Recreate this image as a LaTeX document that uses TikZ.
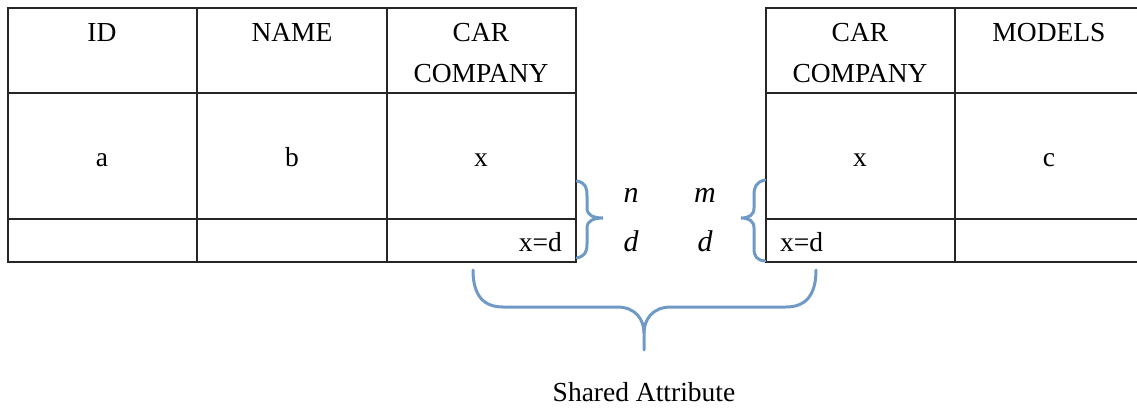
\documentclass[tikz,border=0pt]{standalone}
\usepackage{fontspec}
\setmainfont{Liberation Serif}
\begin{document}
\begin{tikzpicture}[x=1pt,y=-1pt,
  grid/.style={line width=1.3pt,draw=black!85},
  brace/.style={line width=3pt,draw=braceblue,line cap=round},
  cell/.style={font=\fontsize{27.5}{41}\selectfont,inner sep=0pt,align=center},
  var/.style={font=\fontsize{30}{34}\selectfont\itshape,inner sep=0pt,anchor=base}]
\definecolor{braceblue}{HTML}{6F9AC6}
\useasboundingbox (0,0) rectangle (1137,407);

% left table: ID / NAME / CAR COMPANY
\draw[grid] (8,8) rectangle (576,262);
\draw[grid] (197,8) -- (197,262) (387,8) -- (387,262);
\draw[grid] (8,93) -- (576,93) (8,219) -- (576,219);

% right table: CAR COMPANY / MODELS (runs past the right edge)
\draw[grid] (1140,8) -- (766,8) -- (766,262) -- (1140,262);
\draw[grid] (955,8) -- (955,262);
\draw[grid] (766,93) -- (1140,93) (766,219) -- (1140,219);

% header cells
\node[cell,anchor=north] (hid)   at (102,23) {ID};
\node[cell,anchor=north] (hname) at (292,23) {NAME};
\node[cell,anchor=north] (hcar)  at (481,23) {CAR\\COMPANY};
\node[cell,anchor=north] (hcar2) at (860,23) {CAR\\COMPANY};
\node[cell,anchor=north] (hmod)  at (1049,23) {MODELS};

% data cells
\node[cell,anchor=base] (va)  at (102,166) {a};
\node[cell,anchor=base] (vb)  at (292,166) {b};
\node[cell,anchor=base] (vx)  at (481,166) {x};
\node[cell,anchor=base] (vx2) at (860,166) {x};
\node[cell,anchor=base] (vc)  at (1049,166) {c};
\node[cell,anchor=base east] (eq1) at (562,251) {x=d};
\node[cell,anchor=base west] (eq2) at (780,251) {x=d};

% ratios between the tables
\node[var] (n)  at (631,202) {n};
\node[var] (m)  at (705,202) {m};
\node[var] (d1) at (631,251) {d};
\node[var] (d2) at (705,251) {d};

% small braces beside the tables
\draw[brace] (577,181) .. controls (586,183) and (587,188) .. (587,196)
  -- (587,208) .. controls (587,215) and (593,218) .. (603,218)
  .. controls (593,218) and (587,221) .. (587,228)
  -- (587,244) .. controls (587,252) and (585,256) .. (577,258);
\draw[brace] (765,180) .. controls (756,182) and (754,187) .. (754,195)
  -- (754,208) .. controls (754,215) and (749,218) .. (741,218)
  .. controls (749,218) and (754,221) .. (754,228)
  -- (754,248) .. controls (754,257) and (757,260) .. (765,261);

% large brace under both tables
\draw[brace] (473,270) .. controls (473,296) and (484,307) .. (503,307)
  -- (617,307) .. controls (636,307) and (644,320) .. (644,333) -- (644,350);
\draw[brace] (816,270) .. controls (816,296) and (805,307) .. (786,307)
  -- (671,307) .. controls (652,307) and (644,320) .. (644,333);

\node[cell,anchor=base] (shared) at (644,401) {Shared Attribute};
\end{tikzpicture}
\end{document}
